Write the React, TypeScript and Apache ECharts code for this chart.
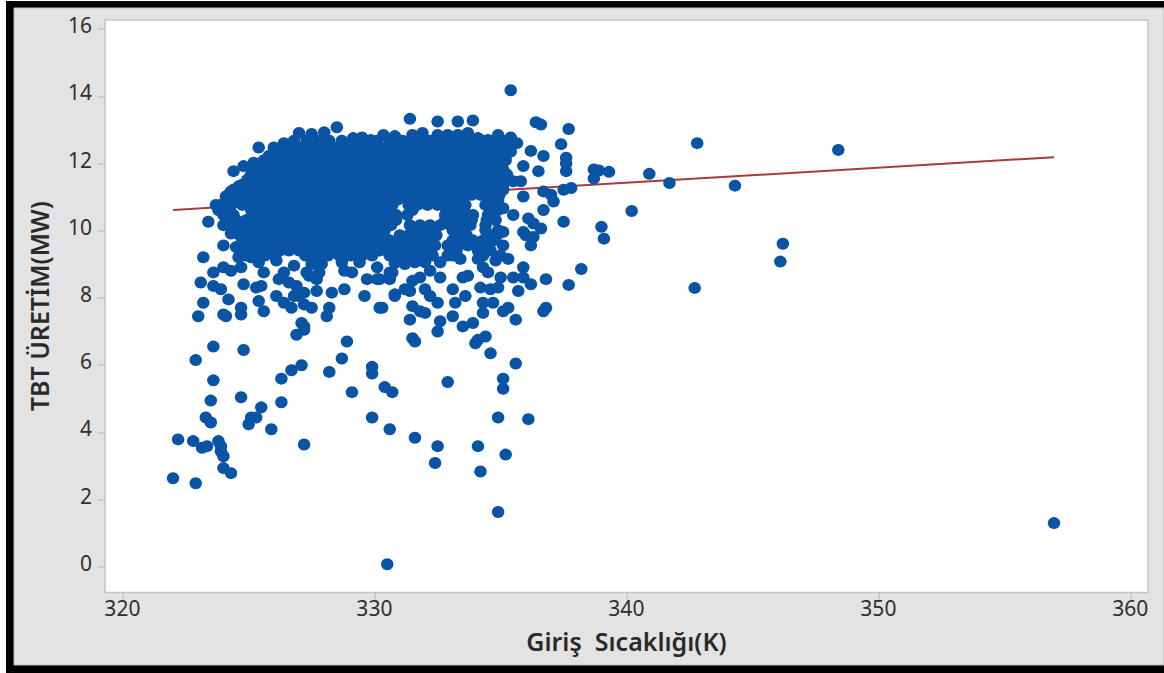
import React, { useEffect, useRef } from "react";
import * as echarts from "echarts";

const xTicks = [320, 330, 340, 350, 360];
const yTicks = [0, 2, 4, 6, 8, 10, 12, 14, 16];
const xTitle = "Giriş  Sıcaklığı(K)";
const yTitle = "TBT ÜRETİM(MW)";

const fitLine: [number, number][] = [[322.01, 10.62], [356.97, 12.19]];

const rightOutliers: [number, number][] = [
  [357.06, 1.27], [348.5, 12.33], [342.9, 12.53], [341.0, 11.62], [341.8, 11.35], [344.4, 11.27],
  [346.3, 9.55], [346.2, 9.02], [342.8, 8.24], [340.3, 10.52], [339.1, 10.05], [339.2, 9.7],
  [338.3, 8.8], [337.8, 8.33], [336.9, 8.5], [336.9, 7.65], [339.4, 11.68], [338.8, 11.75],
  [339.0, 11.72], [338.8, 11.48], [337.7, 12.1], [337.7, 11.93], [337.7, 11.7], [337.5, 12.5],
  [337.8, 12.95], [336.5, 13.15], [336.7, 13.08], [335.5, 14.1], [331.5, 13.25], [332.6, 13.17],
  [333.4, 13.17], [334.0, 13.2], [336.8, 12.15], [336.3, 12.3], [336.6, 11.7], [336.0, 11.85],
  [335.9, 11.4], [335.6, 11.4], [336.8, 11.1], [337.1, 11.0], [337.2, 10.8], [337.6, 11.15],
  [337.9, 11.2], [336.0, 10.95], [336.8, 10.55], [337.6, 10.2],
];

const midScatter: [number, number][] = [
  [336.3, 8.35], [335.8, 8.15], [336.0, 8.85], [336.8, 7.55], [335.7, 7.3], [335.4, 7.65],
  [335.2, 7.55], [336.7, 10.0], [336.4, 10.15], [336.2, 10.3], [336.0, 9.9], [336.4, 9.75],
  [336.3, 9.5], [336.1, 9.8], [335.6, 10.4], [335.2, 10.6], [335.2, 9.9], [335.2, 9.5],
  [335.4, 9.1], [335.1, 9.2], [334.9, 9.05], [334.4, 8.85], [334.6, 8.7], [335.1, 8.55],
  [335.6, 8.55], [336.0, 8.55], [334.3, 8.25], [334.7, 8.2], [335.0, 8.25], [334.8, 7.8],
  [334.4, 7.8], [334.4, 7.5], [334.0, 7.2], [333.6, 7.1], [334.5, 6.8], [334.2, 6.7],
  [333.2, 7.4], [332.7, 7.25], [332.6, 6.95], [331.6, 6.75], [331.5, 7.3], [332.1, 7.5],
  [331.9, 7.55], [331.6, 7.7], [330.4, 7.65], [330.9, 8.05], [331.5, 8.15], [331.3, 8.2],
  [333.2, 8.2], [333.7, 8.0], [333.3, 7.8], [332.6, 7.8], [332.3, 8.0], [332.1, 8.2],
  [331.9, 8.55], [331.6, 8.45], [332.3, 8.75], [332.7, 8.55], [330.8, 8.7], [330.7, 8.5],
  [330.3, 8.5], [333.8, 8.6], [333.6, 8.55], [332.7, 9.0], [332.1, 9.0], [333.5, 9.1],
  [331.7, 9.0], [334.2, 9.1], [333.0, 9.2],
];

const lowerScatter: [number, number][] = [
  [329.0, 6.65], [328.8, 6.15], [328.3, 5.75], [331.7, 6.65], [334.1, 6.6], [334.7, 6.3],
  [335.7, 6.0], [335.2, 5.55], [335.2, 5.25], [333.0, 5.45], [330.0, 5.9], [330.0, 5.7],
  [329.2, 5.15], [330.5, 5.3], [330.8, 5.15], [330.0, 4.4], [330.7, 4.05], [331.7, 3.8],
  [332.6, 3.55], [332.5, 3.05], [334.2, 3.55], [334.3, 2.8], [335.3, 3.3], [335.0, 4.4],
  [336.2, 4.35], [335.0, 1.6], [330.6, 0.05], [323.7, 6.5], [323.0, 6.1], [324.9, 6.4],
  [323.7, 5.5], [323.6, 4.9], [324.8, 5.0], [323.4, 4.4], [323.6, 4.25], [325.6, 4.7],
  [326.4, 4.85], [325.2, 4.4], [325.4, 4.4], [325.1, 4.2], [326.0, 4.05], [327.3, 3.6],
  [322.3, 3.75], [322.9, 3.7], [323.25, 3.5], [323.45, 3.55], [323.9, 3.7], [324.0, 3.55],
  [324.0, 3.4], [324.1, 3.25], [324.1, 2.9], [324.4, 2.75], [322.1, 2.6], [323.0, 2.45],
  [326.4, 5.55], [326.8, 5.8], [327.2, 5.95], [327.0, 6.85], [327.3, 7.0],
];

const leftScatter: [number, number][] = [
  [324.5, 11.7], [324.9, 11.85], [325.5, 12.4], [323.5, 10.2], [324.1, 9.5], [323.3, 9.15],
  [323.7, 8.7], [324.1, 8.85], [324.4, 8.75], [323.2, 8.4], [323.7, 8.3], [324.0, 8.2],
  [323.3, 7.8], [324.3, 7.9], [323.1, 7.4], [324.1, 7.45], [324.2, 7.4], [324.8, 7.65],
  [324.8, 7.45], [324.9, 8.35], [325.5, 7.85], [325.7, 7.55], [325.4, 8.25], [325.6, 8.3],
  [326.2, 8.0], [326.5, 7.8], [326.8, 7.65], [326.9, 8.0], [327.1, 8.0], [327.3, 8.1],
  [327.3, 7.75], [327.6, 7.65], [327.8, 8.15], [328.4, 8.1], [328.9, 8.2], [329.7, 8.0],
  [330.9, 8.0], [330.3, 7.65], [328.3, 7.65], [328.2, 7.4], [327.2, 7.2], [327.3, 7.1],
  [326.5, 8.7], [326.3, 8.5], [326.7, 8.4], [327.0, 8.3], [327.9, 8.7], [327.5, 8.6],
  [327.8, 8.5], [327.4, 8.7], [324.8, 8.85], [324.7, 9.15], [325.5, 9.0], [325.7, 8.7],
  [326.2, 9.05], [324.4, 9.85], [324.6, 9.45], [325.2, 9.15], [328.9, 8.75], [329.2, 8.7],
  [329.8, 8.5], [330.2, 8.5], [330.7, 8.55], [330.7, 8.7], [328.8, 9.0], [329.5, 9.0],
  [330.2, 8.85], [326.9, 8.9], [327.6, 8.95], [328.0, 8.95], [330.9, 8.98], [331.3, 8.95],
];

const topEdge: [number, number][] = [
  [328.6, 13.0], [328.1, 12.85], [327.1, 12.83], [327.6, 12.8], [326.5, 12.53], [329.6, 12.7],
  [329.25, 12.68], [330.45, 12.77], [330.9, 12.74], [331.6, 12.77], [332.0, 12.83], [332.6, 12.77],
  [333.0, 12.77], [333.4, 12.77], [333.8, 12.83], [334.2, 12.68], [334.6, 12.62], [335.0, 12.77],
  [335.5, 12.7], [335.75, 12.53], [331.2, 12.6], [329.95, 12.62], [326.1, 12.4], [324.7, 11.25],
  [324.2, 10.95], [323.8, 10.7], [324.1, 10.1], [324.4, 11.1], [325.0, 11.3], [325.3, 11.95],
];

const coreRowY = [12.42, 12.15, 11.88, 11.6, 11.3, 11.0, 10.7, 10.4, 10.1, 9.8, 9.5, 9.2];

const coreRowX: number[][] = [
  [326.6, 326.95, 327.3, 327.7, 328.0, 328.4, 328.8, 329.1, 329.5, 329.9, 330.2, 330.6, 331.0, 331.4, 331.7, 332.1, 332.5, 332.8, 333.2, 333.6, 333.9, 334.3, 334.7, 335.0, 335.4],
  [325.9, 326.2, 326.6, 327.0, 327.35, 327.7, 328.1, 328.45, 328.8, 329.2, 329.5, 329.9, 330.3, 330.65, 331.0, 331.4, 331.75, 332.1, 332.5, 332.85, 333.2, 333.6, 333.95, 334.3, 334.7, 335.0, 335.3],
  [325.45, 325.75, 326.1, 326.45, 326.8, 327.2, 327.5, 327.9, 328.25, 328.6, 329.0, 329.35, 329.7, 330.1, 330.45, 330.8, 331.2, 331.55, 331.9, 332.3, 332.65, 333.0, 333.4, 333.75, 334.1, 334.5, 334.85, 335.15],
  [325.2, 325.55, 325.9, 326.3, 326.65, 327.0, 327.35, 327.7, 328.1, 328.45, 328.8, 329.2, 329.5, 329.9, 330.3, 330.65, 331.0, 331.4, 331.75, 332.1, 332.5, 332.85, 333.2, 333.6, 333.95, 334.3, 334.7, 335.0, 335.35],
  [324.85, 325.3, 325.7, 326.05, 326.45, 326.8, 327.2, 327.55, 327.9, 328.25, 328.65, 329.0, 329.35, 329.7, 330.1, 330.45, 330.8, 331.2, 331.55, 331.9, 332.3, 332.65, 333.0, 333.4, 333.75, 334.1, 334.5, 334.85, 335.2],
  [324.3, 324.7, 325.1, 325.5, 325.85, 326.25, 326.6, 327.0, 327.35, 327.7, 328.1, 328.45, 328.8, 329.2, 329.5, 329.9, 330.3, 330.65, 331.0, 331.4, 331.75, 332.1, 332.5, 332.85, 333.2, 333.6, 333.95, 334.3, 334.7, 335.05],
  [324.0, 324.4, 324.85, 325.3, 325.7, 326.05, 326.45, 326.8, 327.2, 327.55, 327.9, 328.25, 328.65, 329.0, 329.35, 329.7, 330.1, 330.45, 330.8, 331.45, 331.8, 332.2, 332.6, 333.0, 333.35, 333.7, 334.5, 334.9],
  [324.1, 324.5, 325.35, 325.75, 326.15, 326.5, 326.9, 327.25, 327.6, 328.0, 328.35, 328.7, 329.1, 329.45, 329.8, 330.2, 330.55, 330.95, 331.4, 332.9, 333.3, 333.65, 334.0, 334.6],
  [324.35, 324.75, 325.15, 325.55, 325.95, 326.3, 326.7, 327.05, 327.4, 327.8, 328.15, 328.5, 328.9, 329.25, 329.6, 330.0, 330.35, 330.75, 331.5, 331.9, 332.3, 332.7, 333.1, 333.5, 333.9, 334.5],
  [324.75, 325.1, 325.45, 325.85, 326.25, 326.6, 327.0, 327.35, 327.7, 328.1, 328.45, 328.8, 329.15, 329.5, 329.9, 330.3, 331.1, 331.45, 331.85, 332.2, 332.55, 333.4, 333.75, 334.6, 334.95],
  [324.95, 325.3, 325.7, 326.1, 326.45, 326.8, 327.2, 327.55, 327.9, 328.3, 328.65, 329.0, 329.35, 329.7, 330.1, 330.5, 330.9, 331.3, 331.7, 332.1, 332.5, 333.0, 333.4, 333.8, 334.2, 334.6],
  [325.0, 325.4, 325.75, 326.15, 327.35, 327.8, 328.25, 328.7, 329.15, 329.6, 330.0, 330.7, 331.1, 331.5, 331.9, 332.4, 333.2, 334.4],
];

const fillRowY = [12.6, 12.28, 12.02, 11.74, 11.45, 11.15, 10.85, 10.55, 10.25, 9.95, 9.65, 9.35];

const fillRowX: number[][] = [
  [326.9, 327.4, 327.9, 328.3, 328.8, 329.3, 329.7, 330.2, 330.7, 331.1, 331.5, 331.9, 332.3, 332.8, 333.2, 333.6, 334.0, 334.4, 334.8, 335.2, 335.5],
  [326.1, 326.4, 326.8, 327.15, 327.5, 327.9, 328.25, 328.6, 329.0, 329.35, 329.7, 330.1, 330.45, 330.8, 331.2, 331.55, 331.9, 332.3, 332.65, 333.0, 333.4, 333.75, 334.1, 334.5, 334.85, 335.15, 335.5],
  [325.7, 326.0, 326.35, 326.7, 327.05, 327.4, 327.75, 328.1, 328.45, 328.8, 329.2, 329.55, 329.9, 330.25, 330.6, 331.0, 331.35, 331.7, 332.1, 332.45, 332.8, 333.2, 333.55, 333.9, 334.3, 334.65, 335.0, 335.3],
  [325.35, 325.7, 326.1, 326.45, 326.8, 327.2, 327.55, 327.9, 328.3, 328.65, 329.0, 329.35, 329.7, 330.1, 330.45, 330.85, 331.2, 331.55, 331.95, 332.3, 332.65, 333.0, 333.4, 333.75, 334.15, 334.5, 334.85, 335.2],
  [325.05, 325.45, 325.85, 326.2, 326.6, 326.95, 327.35, 327.7, 328.05, 328.45, 328.8, 329.15, 329.55, 329.9, 330.25, 330.6, 331.0, 331.35, 331.75, 332.1, 332.45, 332.85, 333.2, 333.6, 333.95, 334.3, 334.65, 335.05, 335.35],
  [324.5, 324.9, 325.3, 325.7, 326.05, 326.45, 326.8, 327.15, 327.55, 327.9, 328.25, 328.65, 329.0, 329.35, 329.75, 330.1, 330.5, 330.85, 331.2, 331.6, 331.95, 332.3, 332.7, 333.05, 333.4, 333.8, 334.15, 334.5, 334.9, 335.2],
  [324.2, 324.6, 325.05, 325.5, 325.85, 326.25, 326.65, 327.0, 327.4, 327.75, 328.1, 328.45, 328.85, 329.2, 329.55, 329.95, 330.3, 330.65, 331.0, 331.4, 331.75, 332.15, 332.55, 332.9, 333.25, 333.6, 334.6, 335.0],
  [323.9, 324.35, 325.2, 325.6, 325.95, 326.35, 326.7, 327.1, 327.45, 327.8, 328.2, 328.55, 328.9, 329.3, 329.65, 330.0, 330.4, 330.75, 331.6, 332.95, 333.3, 333.65, 334.7, 335.0],
  [324.25, 324.6, 325.0, 325.35, 325.75, 326.15, 326.5, 326.85, 327.25, 327.6, 327.95, 328.35, 328.7, 329.05, 329.45, 329.8, 330.2, 330.55, 330.95, 332.9, 333.25, 333.6, 333.95, 334.55, 334.9],
  [324.55, 324.9, 325.3, 325.65, 326.05, 326.45, 326.8, 327.15, 327.55, 327.9, 328.3, 328.65, 329.0, 329.35, 329.75, 330.1, 330.5, 331.7, 332.1, 332.45, 333.2, 333.55, 334.5, 335.0],
  [324.85, 325.2, 325.55, 325.9, 326.3, 326.65, 327.0, 327.4, 327.75, 328.1, 328.5, 328.85, 329.2, 329.55, 329.95, 330.3, 330.7, 331.1, 331.5, 331.9, 332.3, 333.2, 333.6, 334.0, 334.4, 334.85],
  [324.9, 325.25, 325.6, 325.95, 326.35, 326.7, 327.1, 327.5, 327.9, 328.3, 328.7, 329.1, 329.5, 329.9, 330.3, 330.9, 331.3, 331.7, 332.15, 333.35, 334.2, 334.7],
];

// Readings were taken with a pixel scale of 320 K at 120 px and 0 MW at 566 px;
// the zoomed ticks place them slightly differently, so the readings are corrected here.
const xReadingCorrection = -0.09;
const yReadingScale = 1.0037;
const yReadingShift = 0.03;

const allPoints: [number, number][] = [
  ...rightOutliers,
  ...midScatter,
  ...lowerScatter,
  ...leftScatter,
  ...topEdge,
  ...coreRowY.flatMap((y, i) => coreRowX[i].map((x) => [x, y] as [number, number])),
  ...fillRowY.flatMap((y, i) => fillRowX[i].map((x) => [x, y] as [number, number])),
].map(([x, y]) => [x + xReadingCorrection, y * yReadingScale + yReadingShift] as [number, number]);

const labelFont = "'Noto Sans', sans-serif";

export default function App() {
  const ref = useRef<HTMLDivElement>(null);
  useEffect(() => {
    const chart = echarts.init(ref.current!, null, { renderer: "svg" });
    chart.setOption({
      animation: false,
      backgroundColor: "#ffffff",
      graphic: {
        elements: [
          { type: "rect", z: -3, shape: { x: 6, y: 1, width: 1158, height: 672 }, style: { fill: "#000000" } },
          { type: "rect", z: -2, shape: { x: 14, y: 8, width: 1150, height: 657 }, style: { fill: "#e3e3e3", stroke: "#bdbdbd", lineWidth: 1 } },
        ],
      },
      grid: {
        left: 105,
        top: 20,
        right: 16,
        bottom: 80.5,
        show: true,
        backgroundColor: "#ffffff",
        borderColor: "#c4c4c4",
        borderWidth: 1.5,
      },
      xAxis: {
        type: "value",
        min: 319.31,
        max: 360.7,
        name: xTitle,
        nameLocation: "middle",
        nameGap: 36,
        nameTextStyle: { fontFamily: labelFont, fontSize: 25, fontWeight: 600, color: "#2a2a2a" },
        splitLine: { show: false },
        axisLine: { show: false, onZero: false },
        axisTick: { show: true, length: 7, customValues: xTicks, lineStyle: { color: "#c4c4c4", width: 1.5 } },
        axisLabel: {
          customValues: xTicks,
          fontFamily: labelFont,
          fontSize: 21,
          color: "#2e2e2e",
          margin: 5,
          hideOverlap: false,
        },
      },
      yAxis: {
        type: "value",
        min: -0.76,
        max: 16.27,
        name: yTitle,
        nameLocation: "middle",
        nameRotate: 90,
        nameGap: 54,
        nameTextStyle: { fontFamily: labelFont, fontSize: 25, fontWeight: 600, color: "#2a2a2a" },
        splitLine: { show: false },
        axisLine: { show: false, onZero: false },
        axisTick: { show: true, length: 7, customValues: yTicks, lineStyle: { color: "#c4c4c4", width: 1.5 } },
        axisLabel: {
          customValues: yTicks,
          fontFamily: labelFont,
          fontSize: 21,
          color: "#2e2e2e",
          margin: 13,
          verticalAlign: "bottom",
          lineHeight: 8,
        },
      },
      series: [
        {
          type: "line",
          data: fitLine,
          symbol: "none",
          z: 1,
          lineStyle: { color: "#a83c3c", width: 2 },
          silent: true,
        },
        {
          type: "scatter",
          data: allPoints,
          symbol: "circle",
          symbolSize: [12.5, 12],
          z: 2,
          itemStyle: { color: "#0a54a5", opacity: 1 },
          silent: true,
        },
      ],
    });
    return () => chart.dispose();
  }, []);
  return <div ref={ref} style={{ position: "absolute", left: 0, top: 0, width: 1164, height: 673 }} />;
}
